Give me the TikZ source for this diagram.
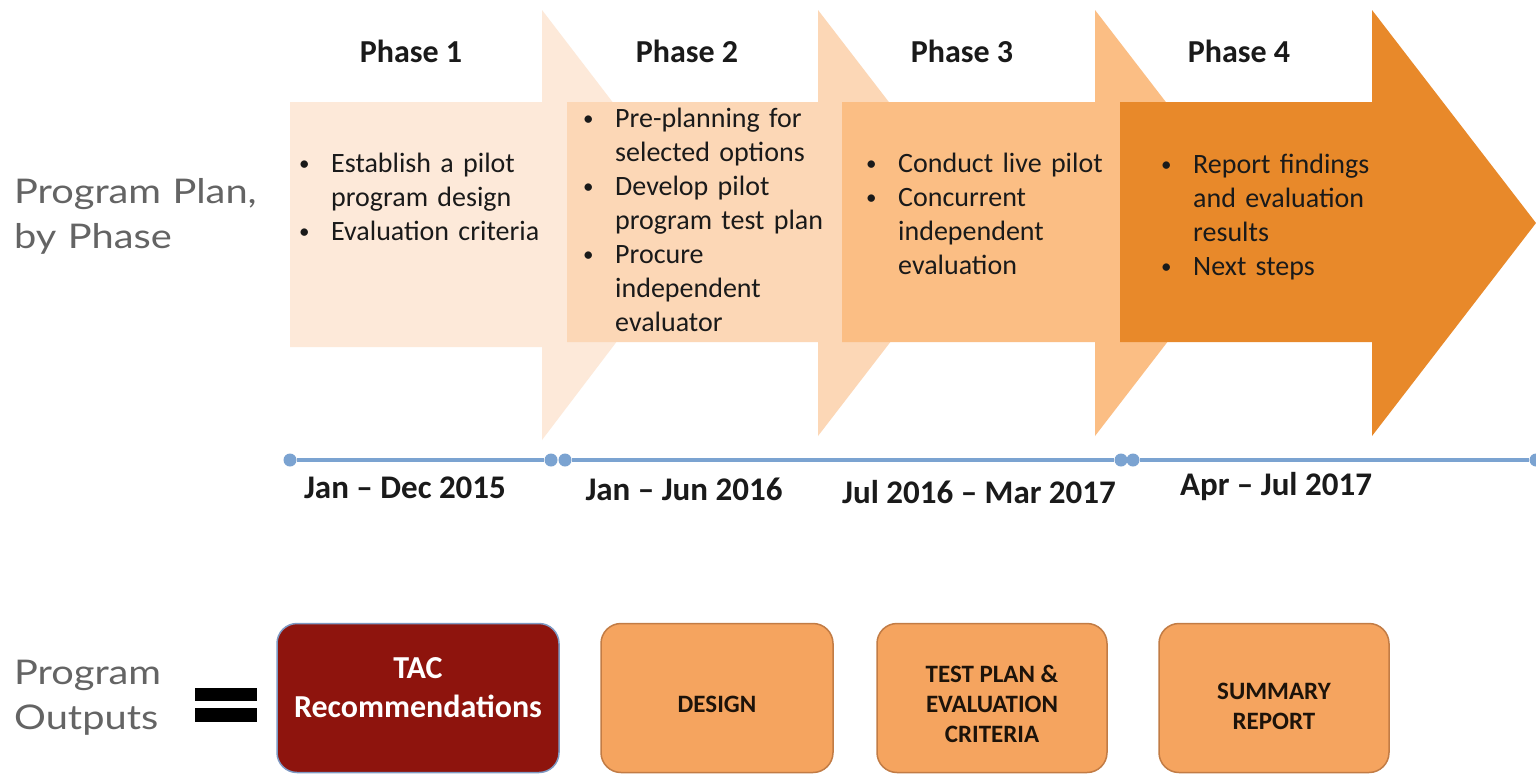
\documentclass[tikz,border=0pt]{standalone}
\usepackage[HTML]{xcolor}
\usepackage{fontspec}
\setmainfont{Carlito}
\newfontfamily\sidefont[FakeStretch=1.17]{Lato}
\usepackage{tikz}
\usetikzlibrary{positioning}

\definecolor{phaseone}{HTML}{FDE9D9}
\definecolor{phasetwo}{HTML}{FCD7B6}
\definecolor{phasethree}{HTML}{FBBE84}
\definecolor{phasefour}{HTML}{E8892A}
\definecolor{timeblue}{HTML}{7BA3D1}
\definecolor{tacred}{HTML}{8E140D}
\definecolor{tacedge}{HTML}{7E9AC4}
\definecolor{outorange}{HTML}{F5A45F}
\definecolor{outedge}{HTML}{C27C45}
\definecolor{sidegray}{HTML}{646464}

\newcommand{\bitem}{\noindent\hangindent=35pt\hangafter=1%
  \makebox[35pt][l]{\hspace{3pt}\raisebox{2pt}{\fontsize{21}{21}\selectfont\textbullet}}}

\begin{document}
\begin{tikzpicture}[x=1pt, y=-1pt,
  every node/.style={font=\fontsize{28}{34}\selectfont, text=black!90},
  phase/.style={anchor=base, font=\fontsize{32}{38}\selectfont\bfseries},
  bullets/.style={anchor=base west, inner sep=0pt, text width=280pt, align=left},
  date/.style={anchor=base, font=\fontsize{33}{38}\selectfont\bfseries},
  dot/.style={circle, fill=timeblue, inner sep=0pt, minimum size=13pt},
  timeline/.style={timeblue, line width=4pt},
  side/.style={anchor=base west, inner sep=0pt, text width=260pt, align=left, text=sidegray, font=\sidefont\fontsize{34}{45}\selectfont},
  output/.style={draw=outedge, line width=1.5pt, fill=outorange, rounded corners=20pt, minimum height=149pt, align=center, text=black!85!brown, font=\fontsize{25}{30}\selectfont\bfseries}]
\path[fill=white, use as bounding box] (0,0) rectangle (1536,774);

% Phase arrows (drawn left to right so each one covers the last)
\fill[phaseone] (290,102) -- (542,102) -- (542,10) -- (706,224) -- (542,440) -- (542,347) -- (290,347) -- cycle;
\fill[phasetwo] (567,102) -- (818,102) -- (818,10) -- (982,223) -- (818,436) -- (818,342) -- (567,342) -- cycle;
\fill[phasethree] (842,102) -- (1095,102) -- (1095,10) -- (1259,223) -- (1095,436) -- (1095,342) -- (842,342) -- cycle;
\fill[phasefour] (1120,102) -- (1372,102) -- (1372,10) -- (1536,223) -- (1372,436) -- (1372,342) -- (1120,342) -- cycle;

% Phase titles
\node[phase] (ph1) at (411,62) {Phase 1};
\node[phase] (ph2) at (687,62) {Phase 2};
\node[phase] (ph3) at (962,62) {Phase 3};
\node[phase] (ph4) at (1239,62) {Phase 4};

% Bullet lists
\node[bullets] (list1) at (296,172) {\bitem Establish a pilot\newline program design\par
  \bitem Evaluation criteria\par};
\node[bullets] (list2) at (580,127) {\bitem Pre-planning for\newline selected options\par
  \bitem Develop pilot\newline program test plan\par
  \bitem Procure\newline independent\newline evaluator\par};
\node[bullets] (list3) at (863,172) {\bitem Conduct live pilot\par
  \bitem Concurrent\newline independent\newline evaluation\par};
\node[bullets] (list4) at (1158,173) {\bitem Report findings\newline and evaluation\newline results\par
  \bitem Next steps\par};

% Timeline
\node[dot] (t1) at (290,460) {};
\node[dot] (t2) at (551,460) {};
\node[dot] (t3) at (565,460) {};
\node[dot] (t4) at (1121,460) {};
\node[dot] (t5) at (1133,460) {};
\node[dot] (t6) at (1536,460) {};
\draw[timeline] (t1) -- (t2);
\draw[timeline] (t3) -- (t4);
\draw[timeline] (t5) -- (t6);

% Dates
\node[date] (d1) at (405,498) {Jan -- Dec 2015};
\node[date] (d2) at (684,500) {Jan -- Jun 2016};
\node[date] (d3) at (979,503) {Jul 2016 -- Mar 2017};
\node[date] (d4) at (1276,495) {Apr -- Jul 2017};

% Side labels
\node[side] (plan) at (14,203) {Program Plan,\\by Phase};
\node[side] (outs) at (14,684) {Program\\Outputs};

% Equals sign
\fill (195,688) rectangle (257,701);
\fill (195,708) rectangle (257,722);

% Program outputs
\node[output, draw=tacedge, fill=tacred, text=white, minimum width=282pt, font=\fontsize{32}{39}\selectfont\bfseries] (tac) at (418,698) {TAC\\Recommendations\rule[-22pt]{0pt}{0pt}};
\node[output, minimum width=232pt] (design) at (717,698) {\rule{0pt}{29pt}DESIGN};
\node[output, minimum width=230pt] (testplan) at (992,698) {\rule{0pt}{29pt}TEST PLAN \&\\EVALUATION\\CRITERIA};
\node[output, minimum width=230pt] (summary) at (1274,698) {\rule{0pt}{33pt}SUMMARY\\REPORT};
\end{tikzpicture}
\end{document}
